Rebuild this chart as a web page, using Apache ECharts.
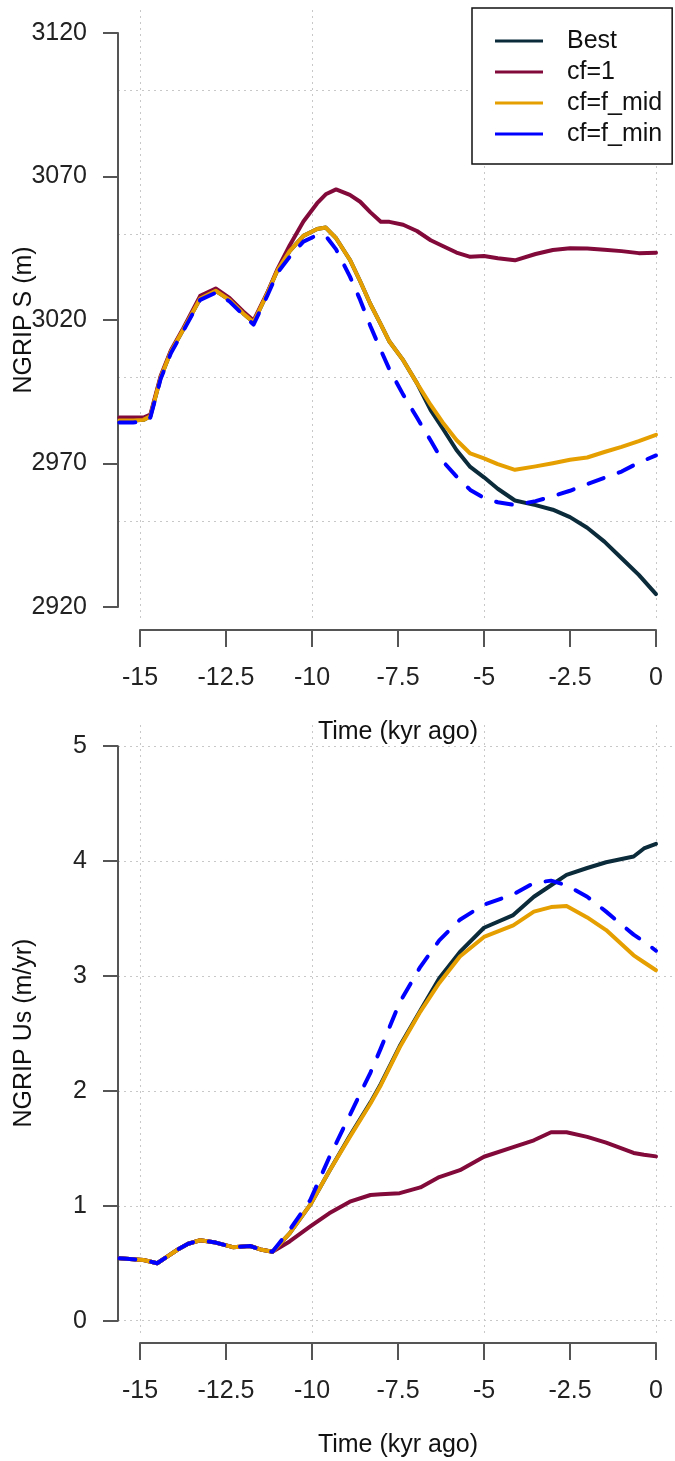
<!DOCTYPE html>
<html>
<head>
<meta charset="utf-8">
<script src="https://cdn.jsdelivr.net/npm/echarts@6/dist/echarts.min.js"></script>
<style>
html,body{margin:0;padding:0;background:#fff;}
#chart{width:675px;height:1461px;}
</style>
</head>
<body>
<div id="chart"></div>
<script>
// ---------------- DATA ----------------
const seriesNames = ['Best', 'cf=1', 'cf=f_mid', 'cf=f_min'];

// Top panel: NGRIP S (m)
const topTime = [-15.6, -15.2, -14.9, -14.7, -14.4, -14.1, -13.75, -13.25, -12.8, -12.4, -12.0, -11.7, -11.3, -11.0, -10.65, -10.25, -9.85, -9.6, -9.3, -8.9, -8.6, -8.3, -8.0, -7.75, -7.35, -6.95, -6.55, -6.2, -5.8, -5.4, -5.0, -4.6, -4.1, -3.5, -3.0, -2.5, -2.0, -1.5, -1.0, -0.5, 0];
const topBest = [2985.0, 2985.0, 2985.2, 2986.5, 3000.0, 3009.0, 3016.5, 3027.5, 3030.2, 3027.0, 3022.3, 3019.2, 3029.3, 3037.4, 3044.0, 3049.3, 3051.7, 3052.2, 3048.5, 3041.0, 3033.5, 3025.5, 3018.5, 3012.5, 3006.0, 2998.0, 2988.6, 2982.2, 2974.7, 2968.8, 2965.2, 2961.2, 2957.1, 2955.5, 2953.9, 2951.3, 2947.6, 2942.8, 2937.0, 2931.2, 2924.5];
const topCf1 = [2986.0, 2986.0, 2986.0, 2987.0, 3000.5, 3009.5, 3017.0, 3028.4, 3031.0, 3027.7, 3023.0, 3019.8, 3029.5, 3037.8, 3046.0, 3054.3, 3060.7, 3063.8, 3065.5, 3063.6, 3061.2, 3057.5, 3054.2, 3054.2, 3053.2, 3051.0, 3047.8, 3045.8, 3043.5, 3042.0, 3042.3, 3041.5, 3040.8, 3043.0, 3044.4, 3045.0, 3044.9, 3044.5, 3044.0, 3043.3, 3043.4];
const topMid = [2985.0, 2985.0, 2985.2, 2986.5, 3000.0, 3009.0, 3016.5, 3027.5, 3030.2, 3027.0, 3022.3, 3019.2, 3029.3, 3037.4, 3044.0, 3049.3, 3051.7, 3052.2, 3048.5, 3041.0, 3033.5, 3025.5, 3018.5, 3012.5, 3006.0, 2998.0, 2990.4, 2984.3, 2978.2, 2973.5, 2971.8, 2969.8, 2967.8, 2969.0, 2970.1, 2971.3, 2972.1, 2974.0, 2975.8, 2977.8, 2980.0];
const topMin = [2984.3, 2984.3, 2984.5, 2986.0, 2999.5, 3008.5, 3016.0, 3027.0, 3029.5, 3026.5, 3021.8, 3018.4, 3028.5, 3036.5, 3042.0, 3047.3, 3049.6, 3049.3, 3044.6, 3035.2, 3027.0, 3017.8, 3009.5, 3002.8, 2994.0, 2986.0, 2978.0, 2970.8, 2965.5, 2960.8, 2958.0, 2956.5, 2955.5, 2956.9, 2958.6, 2960.5, 2962.8, 2965.0, 2967.2, 2970.3, 2972.8];

// Bottom panel: NGRIP Us (m/yr)
const botTime = [-15.6, -15.2, -14.9, -14.5, -14.2, -13.9, -13.6, -13.25, -12.8, -12.3, -11.8, -11.5, -11.15, -10.65, -10.05, -9.5, -8.9, -8.3, -8.0, -7.45, -6.85, -6.3, -5.7, -5.0, -4.15, -3.55, -3.05, -2.6, -2.0, -1.45, -0.65, -0.35, 0];
const botBest = [0.543, 0.535, 0.528, 0.50, 0.56, 0.62, 0.67, 0.70, 0.68, 0.64, 0.65, 0.62, 0.60, 0.76, 1.01, 1.30, 1.61, 1.90, 2.06, 2.39, 2.70, 2.98, 3.21, 3.42, 3.53, 3.69, 3.79, 3.88, 3.94, 3.99, 4.04, 4.11, 4.15];
const botCf1 = [0.543, 0.535, 0.528, 0.50, 0.56, 0.62, 0.67, 0.70, 0.68, 0.64, 0.65, 0.62, 0.60, 0.69, 0.82, 0.935, 1.036, 1.094, 1.10, 1.11, 1.16, 1.25, 1.31, 1.427, 1.51, 1.57, 1.64, 1.64, 1.60, 1.55, 1.46, 1.445, 1.43];
const botMid = [0.543, 0.535, 0.528, 0.50, 0.56, 0.62, 0.67, 0.70, 0.68, 0.64, 0.65, 0.62, 0.60, 0.76, 1.01, 1.30, 1.60, 1.89, 2.05, 2.38, 2.69, 2.94, 3.17, 3.34, 3.44, 3.56, 3.60, 3.61, 3.51, 3.40, 3.18, 3.12, 3.05];
const botMin = [0.543, 0.535, 0.528, 0.50, 0.56, 0.62, 0.67, 0.70, 0.68, 0.64, 0.65, 0.62, 0.60, 0.79, 1.05, 1.42, 1.79, 2.16, 2.37, 2.77, 3.08, 3.31, 3.49, 3.62, 3.71, 3.81, 3.83, 3.79, 3.69, 3.56, 3.36, 3.30, 3.22];

// Tick settings
const xTickMin = -15, xTickMax = 0, xTickStep = 2.5, xGridStep = 5;
const topYMin = 2920, topYMax = 3120, topYStep = 50;
const topGridMin = 2950, topGridMax = 3100;
const botYMin = 0, botYMax = 5, botYStep = 1;

// ---------------- STYLE ----------------
const colors = ['#0b2b3b', '#820a3a', '#e69f00', '#0000ff'];
const FONT = 'Liberation Sans, Arial, sans-serif';
const axisColor = '#555';
const labelColor = '#222';
const gridColor = '#c8c8c8';
const xDataMin = -15 - 22 / 34.4;
const xDataMax = 0 + 19 / 34.4;

function pairs(t, v) { return t.map((x, i) => [x, v[i]]); }

const topSets = [topBest, topCf1, topMid, topMin];
const botSets = [botBest, botCf1, botMid, botMin];

function makeSeries(sets, time, xi, yi) {
  return sets.map((vals, k) => ({
    name: seriesNames[k],
    type: 'line',
    xAxisIndex: xi,
    yAxisIndex: yi,
    data: pairs(time, vals),
    showSymbol: false,
    symbol: 'none',
    smooth: false,
    color: colors[k],
    itemStyle: { color: colors[k] },
    lineStyle: {
      color: colors[k],
      width: 4,
      type: k === 3 ? [16, 16] : 'solid',
      cap: 'round',
      join: 'round'
    },
    z: 10 + k,
    silent: true
  }));
}

const hiddenAxis = (gi, min, max) => ({ gridIndex: gi, type: 'value', min: min, max: max, show: false });

const xDisplayAxis = (gi) => ({
  gridIndex: gi, type: 'value', min: xTickMin, max: xTickMax, interval: xTickStep,
  position: 'bottom',
  axisLine: { show: true, onZero: false, lineStyle: { color: axisColor, width: 2 } },
  axisTick: { show: true, inside: false, length: 17, lineStyle: { color: axisColor, width: 2 } },
  axisLabel: { show: true, margin: 36, color: labelColor, fontSize: 25, fontFamily: FONT, formatter: v => String(v) },
  splitLine: { show: false }
});

const xGridAxis = (gi) => ({
  gridIndex: gi, type: 'value', min: xTickMin, max: xTickMax, interval: xGridStep,
  axisLine: { show: false, onZero: false }, axisTick: { show: false }, axisLabel: { show: false },
  splitLine: { show: true, lineStyle: { color: gridColor, width: 1, type: [2, 4] } }
});

const yLabelAxis = (gi, min, max, step, split) => ({
  gridIndex: gi, type: 'value', min: min, max: max, interval: step,
  position: 'left',
  axisLine: { show: true, onZero: false, lineStyle: { color: axisColor, width: 2 } },
  axisTick: { show: true, inside: false, length: 15, lineStyle: { color: axisColor, width: 2 } },
  axisLabel: { show: true, margin: 31, color: labelColor, fontSize: 25, fontFamily: FONT, formatter: v => String(v) },
  splitLine: { show: split, lineStyle: { color: gridColor, width: 1, type: [2, 4] } }
});

const option = {
  backgroundColor: '#fff',
  animation: false,
  grid: [
    { left: 118, top: 33, width: 557, height: 574 },      // 0 top data
    { left: 140, top: 33, width: 516, height: 597 },      // 1 top x axis
    { left: 140, top: 10, width: 516, height: 612 },      // 2 top vertical grid
    { left: 118, top: 90.4, width: 557, height: 430.5 },  // 3 top horizontal grid
    { left: 118, top: 746.2, width: 557, height: 574.5 }, // 4 bottom data
    { left: 140, top: 746, width: 516, height: 597 },     // 5 bottom x axis
    { left: 140, top: 725, width: 516, height: 612 }      // 6 bottom vertical grid
  ],
  xAxis: [
    hiddenAxis(0, xDataMin, xDataMax),
    xDisplayAxis(1),
    xGridAxis(2),
    hiddenAxis(3, xTickMin, xTickMax),
    hiddenAxis(4, xDataMin, xDataMax),
    xDisplayAxis(5),
    xGridAxis(6)
  ],
  yAxis: [
    yLabelAxis(0, topYMin, topYMax, topYStep, false),
    hiddenAxis(1, 0, 1),
    hiddenAxis(2, 0, 1),
    {
      gridIndex: 3, type: 'value', min: topGridMin, max: topGridMax, interval: topYStep,
      axisLine: { show: false, onZero: false }, axisTick: { show: false }, axisLabel: { show: false },
      splitLine: { show: true, lineStyle: { color: gridColor, width: 1, type: [2, 4] } }
    },
    yLabelAxis(4, botYMin, botYMax, botYStep, true),
    hiddenAxis(5, 0, 1),
    hiddenAxis(6, 0, 1)
  ],
  legend: {
    show: true,
    data: seriesNames.map((n, k) => ({ name: n, icon: 'rect', itemStyle: { color: colors[k] } })),
    orient: 'vertical',
    left: 472,
    top: 8,
    padding: [20.5, 10, 17.5, 23],
    itemWidth: 48,
    itemHeight: 3,
    itemGap: 6,
    borderColor: '#111',
    borderWidth: 1.5,
    backgroundColor: '#fff',
    selectedMode: false,
    textStyle: { fontSize: 25, lineHeight: 25, fontFamily: FONT, color: '#111', padding: [0, 0, 0, 19] }
  },
  graphic: [
    { type: 'text', x: 398, y: 732, style: { text: 'Time (kyr ago)', font: '25px ' + FONT, fill: '#111', align: 'center', verticalAlign: 'middle' } },
    { type: 'text', x: 398, y: 1445, style: { text: 'Time (kyr ago)', font: '25px ' + FONT, fill: '#111', align: 'center', verticalAlign: 'middle' } },
    { type: 'text', x: 24, y: 320, rotation: Math.PI / 2, style: { text: 'NGRIP S (m)', font: '25px ' + FONT, fill: '#111', align: 'center', verticalAlign: 'middle' } },
    { type: 'text', x: 24, y: 1033, rotation: Math.PI / 2, style: { text: 'NGRIP Us (m/yr)', font: '25px ' + FONT, fill: '#111', align: 'center', verticalAlign: 'middle' } }
  ],
  series: makeSeries(topSets, topTime, 0, 0).concat(makeSeries(botSets, botTime, 4, 4))
};

const chart = echarts.init(document.getElementById('chart'), null, { renderer: 'canvas' });
chart.setOption(option);
</script>
</body>
</html>
